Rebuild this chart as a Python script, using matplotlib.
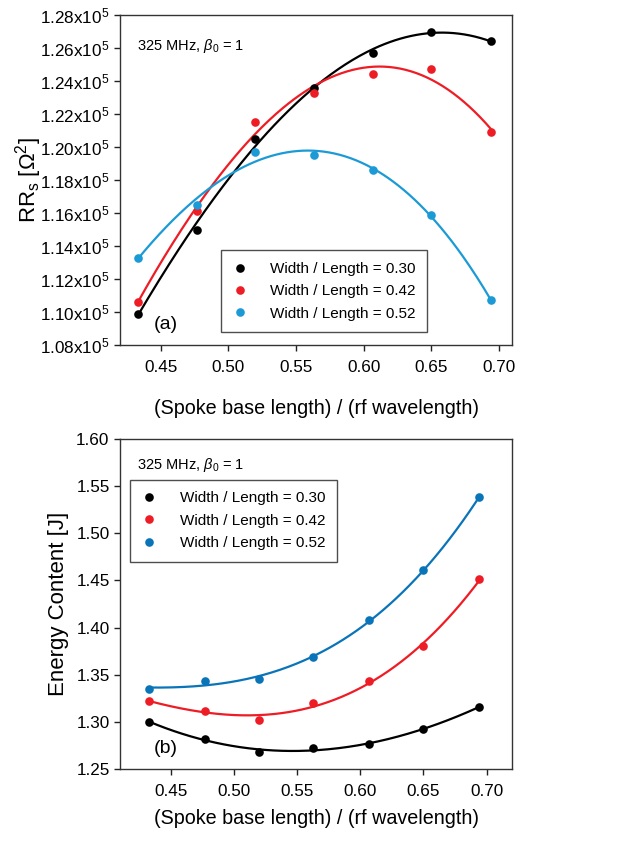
import numpy as np
import matplotlib
matplotlib.use("Agg")
import matplotlib.pyplot as plt

plt.rcParams['font.family'] = ['Liberation Sans', 'DejaVu Sans']
plt.rcParams['mathtext.fontset'] = 'custom'
plt.rcParams['mathtext.rm'] = 'Liberation Sans'
plt.rcParams['mathtext.it'] = 'Liberation Sans:italic'
plt.rcParams['mathtext.sf'] = 'Liberation Sans'

# ---- data ----
x_ratio = [0.433, 0.477, 0.520, 0.563, 0.607, 0.650, 0.694]
series_labels = ["Width / Length = 0.30", "Width / Length = 0.42", "Width / Length = 0.52"]

rrs_030 = [1.099e5, 1.150e5, 1.205e5, 1.236e5, 1.257e5, 1.270e5, 1.264e5]
rrs_042 = [1.106e5, 1.161e5, 1.215e5, 1.233e5, 1.244e5, 1.247e5, 1.209e5]
rrs_052 = [1.133e5, 1.165e5, 1.197e5, 1.195e5, 1.186e5, 1.159e5, 1.107e5]

energy_030 = [1.300, 1.282, 1.268, 1.272, 1.277, 1.292, 1.316]
energy_042 = [1.322, 1.312, 1.302, 1.320, 1.343, 1.380, 1.451]
energy_052 = [1.335, 1.343, 1.345, 1.369, 1.408, 1.461, 1.538]

top_yticks = [1.08e5, 1.10e5, 1.12e5, 1.14e5, 1.16e5, 1.18e5, 1.20e5, 1.22e5, 1.24e5, 1.26e5, 1.28e5]
top_yticklabels = [r'1.08x10$^{5}$', r'1.10x10$^{5}$', r'1.12x10$^{5}$', r'1.14x10$^{5}$', r'1.16x10$^{5}$',
                   r'1.18x10$^{5}$', r'1.20x10$^{5}$', r'1.22x10$^{5}$', r'1.24x10$^{5}$', r'1.26x10$^{5}$',
                   r'1.28x10$^{5}$']
bot_yticks = [1.25, 1.30, 1.35, 1.40, 1.45, 1.50, 1.55, 1.60]
bot_yticklabels = ['1.25', '1.30', '1.35', '1.40', '1.45', '1.50', '1.55', '1.60']
xticks = [0.45, 0.50, 0.55, 0.60, 0.65, 0.70]
xticklabels = ['0.45', '0.50', '0.55', '0.60', '0.65', '0.70']

colors_top = ['#000000', '#ee1c25', '#1c9ad6']
colors_bot = ['#000000', '#ee1c25', '#0a74b9']

W, H = 629, 842
fig = plt.figure(figsize=(W / 100, H / 100), dpi=100)

def px_axes(l, t, r, b):
    return fig.add_axes([l / W, 1 - b / H, (r - l) / W, (b - t) / H])

ax1 = px_axes(120, 15, 512, 345)
ax2 = px_axes(120, 439, 512, 769)

def draw(ax, ys, colors):
    xs = np.array(x_ratio)
    xf = np.linspace(xs[0], xs[-1], 200)
    handles = []
    for y, c, lab in zip(ys, colors, series_labels):
        y = np.array(y)
        p = np.polyfit(xs, y, 3)
        ax.plot(xf, np.polyval(p, xf), color=c, lw=1.6, zorder=2)
        h, = ax.plot(xs, y, 'o', color=c, ms=6.2, mec='none', zorder=3, label=lab)
        handles.append(h)
    return handles

def style(ax, xlabelpad):
    for s in ax.spines.values():
        s.set_color('#333333')
        s.set_linewidth(1.0)
    ax.tick_params(axis='both', which='both', direction='out', length=4, width=1,
                   top=False, right=False, labelsize=12.3, colors='#222222', labelcolor='black')
    ax.tick_params(axis='x', pad=7)
    ax.set_xticks(xticks)
    ax.set_xticklabels(xticklabels)
    ax.set_xlabel('(Spoke base length) / (rf wavelength)', fontsize=14.2, labelpad=xlabelpad)

h1 = draw(ax1, [rrs_030, rrs_042, rrs_052], colors_top)
ax1.set_xlim(0.42, 0.7096)
ax1.set_ylim(1.08e5, 1.28e5)
ax1.set_yticks(top_yticks)
ax1.set_yticklabels(top_yticklabels)
style(ax1, 17)
ax1.set_ylabel(r'RR$_\mathrm{s}$ [$\Omega^{2}$]', fontsize=16, labelpad=-3)
ax1.text(0.043, 0.905, r'325 MHz, $\beta_0$ = 1', transform=ax1.transAxes, fontsize=10.5, va='center')
ax1.text(0.085, 0.062, '(a)', transform=ax1.transAxes, fontsize=14, va='center')
leg1 = ax1.legend(handles=h1, loc='lower left', bbox_to_anchor=(0.257, 0.039), frameon=True,
                  fancybox=False, edgecolor='#222222', fontsize=11, handlelength=1.0,
                  handletextpad=1.5, borderpad=0.75, labelspacing=0.55, borderaxespad=0)
leg1.get_frame().set_linewidth(1.0)

h2 = draw(ax2, [energy_030, energy_042, energy_052], colors_bot)
ax2.set_xlim(0.41, 0.72)
ax2.set_ylim(1.25, 1.60)
ax2.set_yticks(bot_yticks)
ax2.set_yticklabels(bot_yticklabels)
style(ax2, 7)
ax2.set_ylabel('Energy Content [J]', fontsize=16, labelpad=5)
ax2.text(0.043, 0.922, r'325 MHz, $\beta_0$ = 1', transform=ax2.transAxes, fontsize=10.5, va='center')
ax2.text(0.085, 0.062, '(b)', transform=ax2.transAxes, fontsize=14, va='center')
leg2 = ax2.legend(handles=h2, loc='upper left', bbox_to_anchor=(0.0255, 0.876), frameon=True,
                  fancybox=False, edgecolor='#222222', fontsize=11, handlelength=1.0,
                  handletextpad=1.5, borderpad=0.75, labelspacing=0.55, borderaxespad=0)
leg2.get_frame().set_linewidth(1.0)

fig.savefig('out.png', dpi=100)
